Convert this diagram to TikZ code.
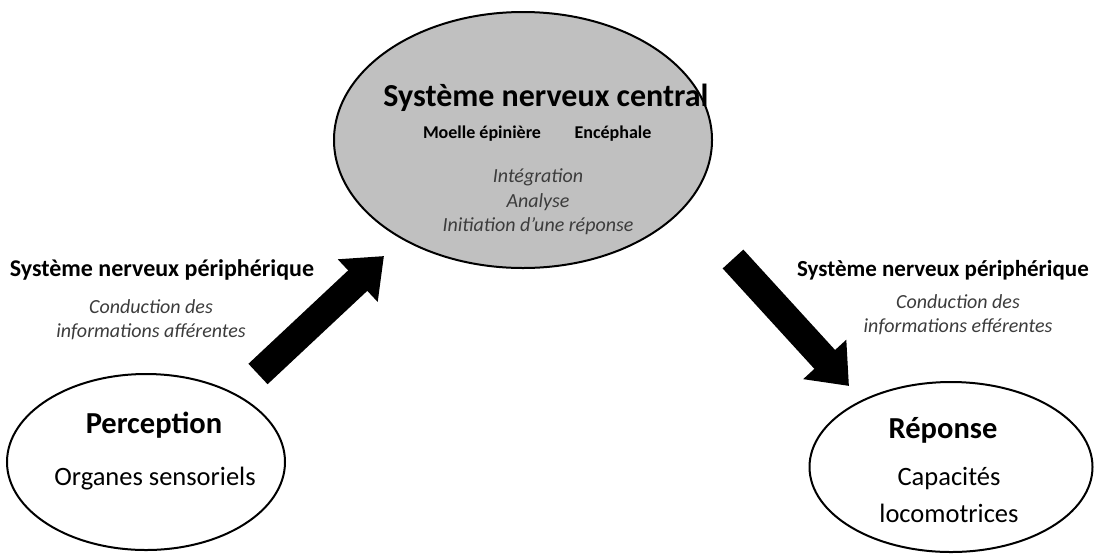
\documentclass[tikz,border=0pt]{standalone}
\usepackage{fontspec}
\setmainfont{Carlito}
\usetikzlibrary{arrows.meta,shapes.geometric}
\definecolor{ellgray}{RGB}{192,192,192}
\definecolor{softtext}{RGB}{60,60,60}
\begin{document}
\begin{tikzpicture}[x=1pt,y=-1pt,
  blob/.style={draw, ellipse, line width=2pt, inner sep=0pt},
  bigarrow/.style={line width=28pt, -{Triangle[width=56pt,length=36pt]}},
  bigtitle/.style={font=\bfseries\fontsize{32}{36}\selectfont},
  boxtitle/.style={font=\bfseries\fontsize{30.5}{34}\selectfont},
  plain/.style={font=\fontsize{26.5}{37}\selectfont, align=center},
  subhead/.style={font=\bfseries\fontsize{18}{21}\selectfont},
  nervelabel/.style={font=\bfseries\fontsize{24}{28}\selectfont},
  soft/.style={font=\itshape\fontsize{20}{24.5}\selectfont, text=softtext, align=center},
  softc/.style={font=\itshape\fontsize{20}{24}\selectfont, text=softtext, align=center}]
\useasboundingbox (0,0) rectangle (1102,558);
% ellipses
\node[blob, fill=ellgray, minimum width=378pt, minimum height=256pt] (snc) at (523,140) {};
\node[blob, fill=white, minimum width=278pt, minimum height=176pt] (perc) at (146,462) {};
\node[blob, fill=white, minimum width=283pt, minimum height=170pt] (rep) at (951,467) {};
% central texts
\node[bigtitle] (sncT) at (546,98) {Système nerveux central};
\node[subhead] (moelle) at (482,134) {Moelle épinière};
\node[subhead] (ence) at (613,134) {Encéphale};
\node[soft] (integ) at (538,202) {Intégration\\Analyse\\Initiation d'une réponse};
% perception texts
\node[boxtitle] (percT) at (154,425) {Perception};
\node[plain] (org) at (155,479) {Organes sensoriels};
% reponse texts
\node[boxtitle] (repT) at (943,430) {Réponse};
\node[plain] (cap) at (949,495) {Capacités\\locomotrices};
% left labels
\node[nervelabel] (snpL) at (162,270) {Système nerveux périphérique};
\node[softc] (condL) at (151,320) {Conduction des\\informations afférentes};
% right labels
\node[nervelabel, font=\bfseries\fontsize{23}{27}\selectfont] (snpR) at (943,270) {Système nerveux périphérique};
\node[softc] (condR) at (958,315) {Conduction des\\informations efférentes};
% arrows
\coordinate (aTail) at (258,374);
\coordinate (aTip) at (384,256);
\coordinate (eTail) at (733,259);
\coordinate (eTip) at (849,386);
\draw[bigarrow] (aTail) -- (aTip);
\draw[bigarrow] (eTail) -- (eTip);
\end{tikzpicture}
\end{document}
